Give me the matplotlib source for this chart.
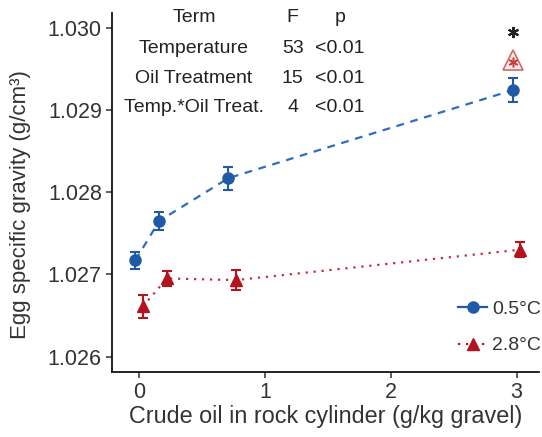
import matplotlib
matplotlib.use("Agg")
import matplotlib.pyplot as plt

plt.rcParams['font.family'] = ['Liberation Sans', 'DejaVu Sans']

# oil dose (g/kg gravel) and egg specific gravity, mean +/- SE
dose = [0, 0.19, 0.74, 3.0]
cold_mean = [1.02717, 1.02765, 1.02817, 1.02924]
cold_se = [0.00010, 0.00011, 0.00014, 0.00015]
warm_mean = [1.02661, 1.02695, 1.02693, 1.02730]
warm_se = [0.00014, 0.00009, 0.00012, 0.00009]
dodge = 0.03

# ANOVA table
terms = ["Term", "Temperature", "Oil Treatment", "Temp.*Oil Treat."]
f_vals = ["F", "53", "15", "4"]
p_vals = ["p", "<0.01", "<0.01", "<0.01"]

blue = "#1f5aa6"
red = "#b3121e"

fig = plt.figure(figsize=(5.42, 4.37), dpi=100)
ax = fig.add_axes([0.207, 0.149, 0.788, 0.821])

xb = [d - dodge for d in dose]
xr = [d + dodge for d in dose]

ax.plot(xb, cold_mean, color="#2f6cc0", lw=1.6, ls=(0, (3.5, 3)), zorder=2)
ax.errorbar(xb, cold_mean, yerr=cold_se, fmt="none", ecolor=blue, elinewidth=1.5,
            capsize=3.5, capthick=1.5, zorder=3)
ax.plot(xb, cold_mean, "o", color=blue, ms=8, zorder=4)

ax.plot(xr, warm_mean, color="#c0303a", lw=1.6, ls=(0, (1, 2.6)), zorder=2)
ax.errorbar(xr, warm_mean, yerr=warm_se, fmt="none", ecolor=red, elinewidth=1.5,
            capsize=3.5, capthick=1.5, zorder=3)
ax.plot(xr, warm_mean, "^", color=red, ms=8.5, zorder=4)

# legend handles
ax.plot([], [], "-o", color=blue, lw=1.6, ms=8, label="0.5°C")
ax.plot([], [], ls=(0, (1, 2.6)), marker="^", color=red, lw=1.6, ms=8.5, label="2.8°C")
leg = ax.legend(loc="lower right", bbox_to_anchor=(1.045, 0.0), frameon=False,
                fontsize=14, handlelength=1.5, handletextpad=0.25, labelspacing=0.95)
for t in leg.get_texts():
    t.set_color("#333333")

# significance marker at the highest dose
ax.plot(3.0 - dodge, 1.02961, "^", ms=14, mfc="#fbeaea", mec="#d06a6a", mew=1.2, zorder=4)
ax.plot(3.0 - dodge, 1.02958, marker=(6, 2, 0), ms=7, mec="#c83a3a", mew=1.1, zorder=5)
ax.plot(3.0 - dodge, 1.02995, marker=(6, 2, 0), ms=8, mec="#222222", mew=1.5, zorder=5)

# ANOVA results in the upper left
row_y = [1.030127, 1.029751, 1.029387, 1.029023]
for i in range(len(terms)):
    ax.text(0.437, row_y[i], terms[i], ha="center", va="center", fontsize=14, color="#222222")
    ax.text(1.22, row_y[i], f_vals[i], ha="center", va="center", fontsize=14, color="#222222")
    ax.text(1.595, row_y[i], p_vals[i], ha="center", va="center", fontsize=14, color="#222222")

ax.set_xlim(-0.214, 3.18)
ax.set_ylim(1.025814, 1.030176)
ax.set_xticks([0, 1, 2, 3])
ax.set_yticks([1.026, 1.027, 1.028, 1.029, 1.030])
ax.set_yticklabels(["1.026", "1.027", "1.028", "1.029", "1.030"])
ax.tick_params(labelsize=15.5, labelcolor="#333333", length=4, width=1.1, color="#333333")
for s in ["top", "right"]:
    ax.spines[s].set_visible(False)
for s in ["left", "bottom"]:
    ax.spines[s].set_linewidth(1.3)
    ax.spines[s].set_color("#111111")

ax.set_xlabel("Crude oil in rock cylinder (g/kg gravel)", fontsize=16.8, color="#333333", labelpad=1)
ax.set_ylabel("Egg specific gravity (g/cm³)", fontsize=16, color="#333333")
ax.yaxis.set_label_coords(-0.19, 0.465)

fig.savefig("out.png", dpi=100)
